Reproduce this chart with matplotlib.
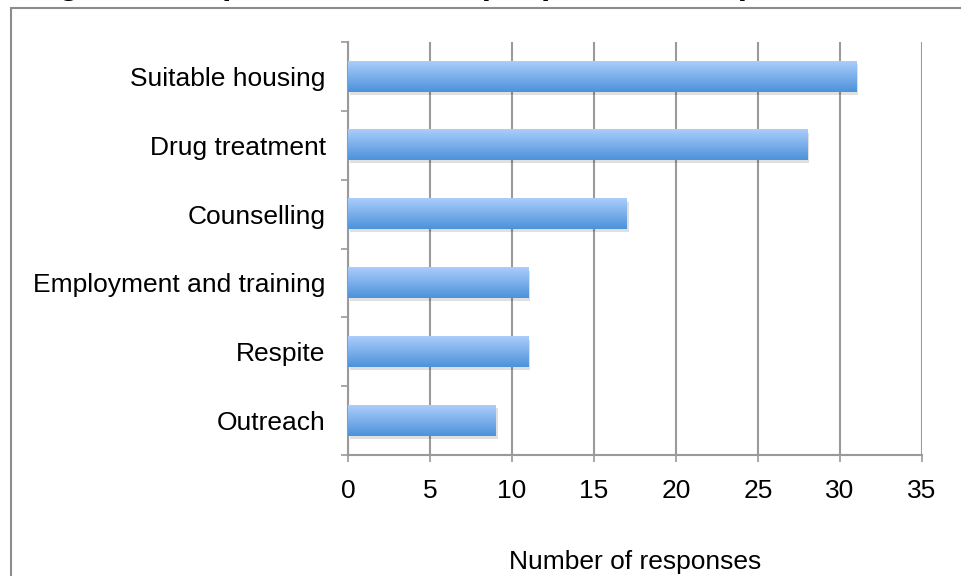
import numpy as np
import matplotlib.pyplot as plt
from matplotlib.colors import LinearSegmentedColormap
from matplotlib.patches import Rectangle
import matplotlib.transforms as mtransforms

plt.rcParams['font.family'] = ['Liberation Sans', 'DejaVu Sans']

categories = ['Suitable housing', 'Drug treatment', 'Counselling',
              'Employment and training', 'Respite', 'Outreach']
responses = [31, 28, 17, 11, 11, 9]
x_ticks = [0, 5, 10, 15, 20, 25, 30, 35]
title = 'Figure 3: Reported needs of people in street prostitution'

GRID = '#9a9a9a'


def main():
    fig = plt.figure(figsize=(9.62, 5.76), dpi=100)
    ax = fig.add_axes([0.3617, 0.2101, 0.5967, 0.7169])

    # outer chart frame, partly off the page
    fig.patches.append(Rectangle((0.0114, -0.1), 1.2, 1.086, transform=fig.transFigure,
                                 fill=False, edgecolor='#8c8c8c', lw=1.5))
    # title sits mostly above the page, only its lower edge shows
    fig.text(0.03, 1.011, title, fontsize=24, fontweight='bold', va='baseline')

    y = np.arange(len(categories))[::-1]
    bars = ax.barh(y, responses, height=0.44, color='none', zorder=3)

    cmap = LinearSegmentedColormap.from_list('bar', ['#4d92da', '#aacdfb'])
    grad = np.linspace(0, 1, 64).reshape(-1, 1)
    shadow_off = mtransforms.offset_copy(ax.transData, fig=fig, x=2, y=-3, units='dots')
    for b in bars:
        x0, y0, w, h = b.get_x(), b.get_y(), b.get_width(), b.get_height()
        ax.add_patch(Rectangle((x0, y0), w, h, transform=shadow_off,
                               color='#000000', alpha=0.12, lw=0, zorder=2))
        ax.imshow(grad, cmap=cmap, aspect='auto', origin='lower',
                  extent=(x0, x0 + w, y0, y0 + h), zorder=3)

    ax.set_xlim(0, 35)
    ax.set_ylim(-0.5, len(categories) - 0.5)
    ax.set_xticks(x_ticks)
    ax.set_xticklabels([str(t) for t in x_ticks], fontsize=19)
    ax.set_yticks(y)
    ax.set_yticklabels(categories, fontsize=19)
    ax.set_yticks(np.arange(len(categories) + 1) - 0.5, minor=True)
    ax.tick_params(axis='y', which='major', length=0, pad=16)
    ax.tick_params(axis='y', which='minor', length=5, width=1.2, color=GRID, direction='out')
    ax.tick_params(axis='x', length=5, width=1.2, color=GRID, direction='out', pad=12)

    ax.xaxis.grid(True, color=GRID, lw=1.5, zorder=0)
    ax.set_axisbelow(True)
    for s in ['top', 'right']:
        ax.spines[s].set_visible(False)
    for s in ['left', 'bottom']:
        ax.spines[s].set_color(GRID)
        ax.spines[s].set_linewidth(1.5)

    ax.set_xlabel('Number of responses', fontsize=19, labelpad=34)

    fig.savefig('out.png', dpi=100)


if __name__ == '__main__':
    main()
